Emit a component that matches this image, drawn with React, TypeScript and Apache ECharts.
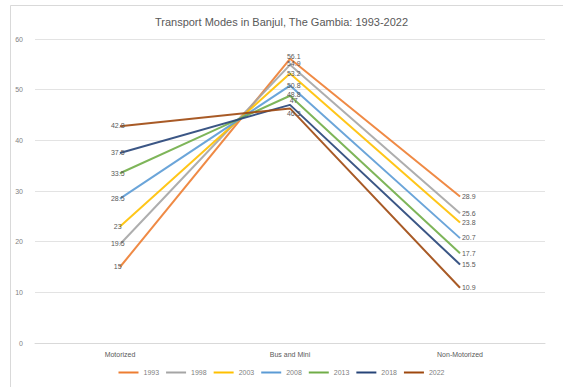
import React, { useEffect, useRef } from "react";
import * as echarts from "echarts";

const categories = ["Motorized", "Bus and Mini", "Non-Motorized"];
const years = ["1993", "1998", "2003", "2008", "2013", "2018", "2022"];
const shares: number[][] = [
  [15, 56.1, 28.9],
  [19.5, 54.9, 25.6],
  [23, 53.2, 23.8],
  [28.5, 50.8, 20.7],
  [33.5, 48.8, 17.7],
  [37.5, 47.0, 15.5],
  [42.8, 46.3, 10.9],
];
const colors = ["#ED7D31", "#A5A5A5", "#FFC000", "#5B9BD5", "#70AD47", "#264478", "#9E480E"];
const yTicks = { min: 0, max: 60, interval: 10 };

// small vertical nudges for the crowded labels at the peak
const peakNudge = [-2, -1, 0, 0, -1, -4, 5];
// horizontal shift of the label per category
const labelShiftX = [-2, 4, 9];

export default function App() {
  const ref = useRef<HTMLDivElement>(null);
  useEffect(() => {
    if (!ref.current) return;
    const chart = echarts.init(ref.current, undefined, { renderer: "svg" });
    chart.setOption({
      animation: false,
      backgroundColor: "#ffffff",
      textStyle: { fontFamily: "Liberation Sans, Arial, sans-serif" },
      title: {
        text: "Transport Modes in Banjul, The Gambia: 1993-2022",
        left: "center",
        top: 11,
        textStyle: { fontSize: 11, fontWeight: "normal", color: "#595959" },
      },
      graphic: [
        {
          type: "rect",
          shape: { x: 10.5, y: 5.5, width: 560, height: 390 },
          style: { fill: "none", stroke: "#d9d9d9", lineWidth: 1 },
          silent: true,
        },
      ],
      legend: {
        bottom: 6,
        left: "center",
        itemWidth: 20,
        itemHeight: 2,
        itemGap: 7,
        icon: "rect",
        textStyle: { fontSize: 7, color: "#7f7f7f" },
        data: years,
      },
      grid: { left: 35, right: 18, top: 39, bottom: 44 },
      xAxis: {
        type: "category",
        data: categories,
        boundaryGap: true,
        axisLine: { lineStyle: { color: "#d9d9d9" } },
        axisTick: { show: false },
        axisLabel: { fontSize: 7, color: "#595959", margin: 8 },
      },
      yAxis: {
        type: "value",
        min: yTicks.min,
        max: yTicks.max,
        interval: yTicks.interval,
        axisLine: { show: false },
        axisTick: { show: false },
        splitLine: { lineStyle: { color: "#e3e3e3" } },
        axisLabel: { fontSize: 7, color: "#7f7f7f", margin: 12 },
      },
      series: years.map((y, i) => ({
        name: y,
        type: "line",
        data: shares[i].map((v, j) => ({
          value: v,
          label: {
            position: [labelShiftX[j], j === 1 ? peakNudge[i] : 0],
            align: "center",
            verticalAlign: "middle",
          },
        })),
        symbol: "circle",
        symbolSize: 0.5,
        showSymbol: true,
        itemStyle: { color: colors[i] },
        color: colors[i],
        lineStyle: { width: 2, color: colors[i], opacity: 0.9 },
        label: {
          show: true,
          fontSize: 7,
          color: "#595959",
          formatter: (p: any) => String(p.value),
        },
        labelLayout: { hideOverlap: false },
        z: 2 + i,
      })),
    });
    return () => chart.dispose();
  }, []);
  return (
    <div
      ref={ref}
      style={{ position: "fixed", left: 0, top: 0, width: 563, height: 387 }}
    />
  );
}
